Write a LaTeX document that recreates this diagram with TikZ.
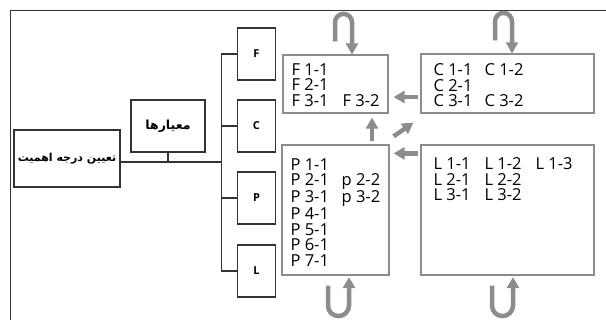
\documentclass[tikz,border=0pt]{standalone}
\usepackage{fontspec}
\setmainfont{Open Sans}
\newfontfamily\farsi[Script=Arabic]{DejaVu Sans}
\TeXXeTstate=1
\usetikzlibrary{arrows.meta}
\newcommand{\rescol}[1]{\makebox[51pt][l]{#1}}
\tikzset{
  frame/.style={draw=black!80, line width=1.3pt},
  link/.style={draw=black!80, line width=1.4pt},
  topbox/.style={draw=black!80, line width=1.5pt, inner sep=0pt},
  critbox/.style={topbox, minimum width=38pt, minimum height=52pt, font=\bfseries\fontsize{11}{11}\selectfont},
  resbox/.style={draw=black!45, line width=1.2pt, inner sep=0pt},
  entries/.style={anchor=north west, inner sep=0pt, align=left, font=\fontsize{16.5}{15.5}\selectfont},
  flow/.style={draw=black!45, line width=4.5pt, arrows=-{Triangle[width=12pt,length=11pt]}}
}
\begin{document}
\begin{tikzpicture}[x=1pt,y=1pt]
\useasboundingbox (0,0) rectangle (606,-320);
\draw[frame] (606,-10.5) -- (10.5,-10.5) -- (10.5,-320);
% left part
\node[topbox, minimum width=106pt, minimum height=57pt] (imp) at (67,-158.5)
  {\farsi\bfseries\fontsize{11}{11}\selectfont\beginR تعیین درجه اهمیت\endR};
\node[topbox, minimum width=74pt, minimum height=52pt] (crit) at (168,-126)
  {\farsi\bfseries\fontsize{12.5}{12.5}\selectfont\beginR معیارها\endR};
\coordinate (hub) at (222,-162);
\draw[link] (imp.east |- hub) -- (hub);
\draw[link] (crit.south) -- (crit.south |- hub);
% criteria
\node[critbox] (F) at (256.5,-54) {F};
\node[critbox] (C) at (256.5,-126) {C};
\node[critbox] (P) at (256.5,-198) {P};
\node[critbox] (L) at (256.5,-271) {L};
\draw[link] (F.west) -- ++(-15.5,0) |- (L.west);
\draw[link] (C.west) -- ++(-15.5,0);
\draw[link] (P.west) -- ++(-15.5,0);
% result boxes
\node[resbox, minimum width=105pt, minimum height=58pt] (fres) at (335.5,-84) {};
\node[resbox, minimum width=173pt, minimum height=59pt] (cres) at (507.5,-83.5) {};
\node[resbox, minimum width=107pt, minimum height=130pt] (pres) at (335.5,-210) {};
\node[resbox, minimum width=173pt, minimum height=130pt] (lres) at (507.5,-210) {};
\node[entries] (ftxt) at ([shift={(9,-9)}]fres.north west)
  {F 1-1\\F 2-1\\\rescol{F 3-1}F 3-2};
\node[entries] (ctxt) at ([shift={(13,-10)}]cres.north west)
  {\rescol{C 1-1}C 1-2\\C 2-1\\\rescol{C 3-1}C 3-2};
\node[entries] (ptxt) at ([shift={(9,-14)}]pres.north west)
  {P 1-1\\\rescol{P 2-1}p 2-2\\\rescol{P 3-1}p 3-2\\P 4-1\\P 5-1\\P 6-1\\P 7-1};
\node[entries] (ltxt) at ([shift={(13,-13)}]lres.north west)
  {\rescol{L 1-1}\rescol{L 1-2}L 1-3\\\rescol{L 2-1}L 2-2\\\rescol{L 3-1}L 3-2};
% flows between boxes
\draw[flow] ([shift={(-2,-13.5)}]cres.west) -- ([shift={(5,-13)}]fres.east);
\draw[flow] ([shift={(-2,-9)}]lres.north west) -- ([shift={(4,-9)}]pres.north east);
\draw[flow] ([shift={(36.5,3)}]pres.north) -- ([shift={(36.5,-4)}]fres.south);
\draw[flow] ([shift={(4,8)}]pres.north east) -- ([shift={(-7,-9)}]cres.south west);
% loops
\draw[flow] ([shift={(-0.5,13)}]fres.north) -- ++(0,19)
  arc[start angle=180, end angle=0, radius=8.5] -- ([xshift=16.5]fres.north);
\draw[flow] ([shift={(-12.5,13)}]cres.north) -- ++(0,19)
  arc[start angle=180, end angle=0, radius=8.5] -- ([xshift=4.5]cres.north);
\draw[flow] ([shift={(-7.5,-10)}]pres.south) -- ++(0,-20)
  arc[start angle=180, end angle=360, radius=10.5] -- ([shift={(13.5,-1.5)}]pres.south);
\draw[flow] ([shift={(-15.5,-10)}]lres.south) -- ++(0,-20)
  arc[start angle=180, end angle=360, radius=10.5] -- ([shift={(5.5,-1.5)}]lres.south);
\end{tikzpicture}
\end{document}
